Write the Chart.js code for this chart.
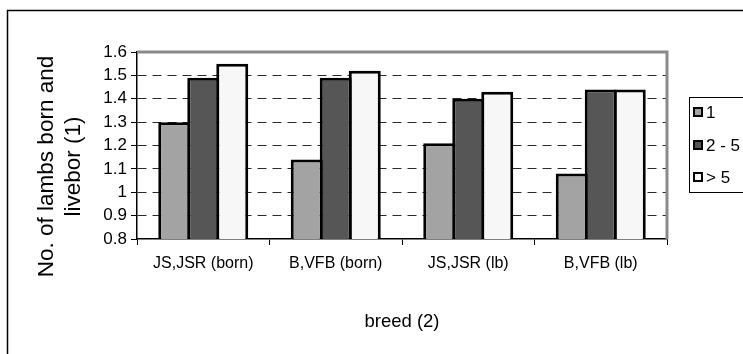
<!DOCTYPE html>
<html>
<head>
<meta charset="utf-8">
<script src="https://cdn.jsdelivr.net/npm/chart.js@4/dist/chart.umd.min.js"></script>
<style>
  html, body { margin: 0; padding: 0; background: #fff; }
  canvas { display: block; }
</style>
</head>
<body>
<canvas id="c" width="743" height="354"></canvas>
<script>
// Breed groups on the category axis
const categories = ['JS,JSR (born)', 'B,VFB (born)', 'JS,JSR (lb)', 'B,VFB (lb)'];
// Parity classes (one series each)
const seriesNames = ['1', '2 - 5', '> 5'];
const parity1 = [1.30, 1.14, 1.21, 1.08];
const parity2to5 = [1.49, 1.49, 1.40, 1.44];
const parityOver5 = [1.55, 1.52, 1.43, 1.44];
// Value axis tick labels, bottom to top
const yTickLabels = ['0.8', '0.9', '1', '1.1', '1.2', '1.3', '1.4', '1.5', '1.6'];
const yTitle = ['No. of lambs born and', 'livebor (1)'];
const xTitle = 'breed (2)';

const FONT = '"Liberation Sans", Arial, Helvetica, sans-serif';
const fills = ['#a3a3a3', '#565656', '#f7f7f7'];

// Outer frame, plot-area outline, value-axis title and the boxed legend
const decorations = {
  id: 'decorations',
  beforeDraw(chart) {
    const ctx = chart.ctx;
    ctx.save();
    ctx.fillStyle = '#fff';
    ctx.fillRect(0, 0, chart.width, chart.height);
    ctx.strokeStyle = '#000';
    ctx.lineWidth = 1.5;
    ctx.beginPath();
    ctx.moveTo(7.5, chart.height);
    ctx.lineTo(7.5, 10.5);
    ctx.lineTo(chart.width, 10.5);
    ctx.stroke();
    ctx.restore();
  },
  afterDraw(chart) {
    const { ctx, chartArea: a } = chart;
    ctx.save();
    // grey top and right edge of the plot area
    ctx.strokeStyle = '#8a8a8a';
    ctx.lineWidth = 3;
    ctx.beginPath();
    ctx.moveTo(a.left, a.top);
    ctx.lineTo(a.right, a.top);
    ctx.lineTo(a.right, a.bottom);
    ctx.stroke();

    // value-axis title, two rotated lines
    ctx.save();
    ctx.translate(47, 166.5);
    ctx.rotate(-Math.PI / 2);
    ctx.font = '22.5px ' + FONT;
    ctx.fillStyle = '#000';
    ctx.textAlign = 'center';
    ctx.textBaseline = 'middle';
    yTitle.forEach((line, i) => ctx.fillText(line, 0, i * 26.5));
    ctx.restore();

    // legend box
    ctx.strokeStyle = '#000';
    ctx.lineWidth = 1;
    ctx.strokeRect(689.5, 97.5, 80, 95);
    const rows = [112, 145, 177];
    ctx.font = '17px ' + FONT;
    ctx.textBaseline = 'middle';
    ctx.textAlign = 'left';
    chart.data.datasets.forEach((ds, i) => {
      const y = rows[i];
      ctx.fillStyle = ds.backgroundColor;
      ctx.fillRect(693, y - 5, 10, 10);
      ctx.strokeStyle = '#000';
      ctx.lineWidth = 2;
      ctx.strokeRect(694, y - 4, 8, 8);
      ctx.fillStyle = '#000';
      ctx.fillText(ds.label, 706, y + 1);
    });
    ctx.restore();
  }
};

new Chart(document.getElementById('c'), {
  type: 'bar',
  data: {
    labels: categories,
    datasets: [
      { label: seriesNames[0], data: parity1, backgroundColor: fills[0] },
      { label: seriesNames[1], data: parity2to5, backgroundColor: fills[1] },
      { label: seriesNames[2], data: parityOver5, backgroundColor: fills[2] }
    ].map(d => Object.assign(d, {
      borderColor: '#000',
      borderWidth: 3,
      // slightly wider than the slot so neighbouring bars share one outline
      categoryPercentage: 0.6566,
      barPercentage: 1.1034
    }))
  },
  options: {
    responsive: false,
    animation: false,
    events: [],
    layout: { padding: { left: 0, right: 76, top: 52, bottom: 0 } },
    plugins: { legend: { display: false }, tooltip: { enabled: false } },
    scales: {
      x: {
        afterFit(scale) { scale.height = 115; },
        offset: true,
        grid: {
          drawOnChartArea: false,
          drawTicks: true,
          tickLength: 6,
          offset: true,
          tickColor: '#000'
        },
        border: { color: '#000', width: 1.5 },
        ticks: {
          color: '#000',
          font: { family: FONT, size: 16 },
          padding: 9,
          maxRotation: 0,
          autoSkip: false
        },
        title: {
          display: true,
          text: xTitle,
          color: '#000',
          font: { family: FONT, size: 18.5 },
          padding: { top: 0, bottom: 21 }
        }
      },
      y: {
        afterFit(scale) { scale.width = 137; },
        min: 0.8,
        max: 1.6,
        grid: {
          color: ctx => {
            const v = ctx.tick ? ctx.tick.value : 0;
            return (Math.abs(v - 1.6) < 1e-6 || Math.abs(v - 0.8) < 1e-6) ? 'rgba(0,0,0,0)' : '#2a2a2a';
          },
          lineWidth: 1,
          tickLength: 6,
          tickColor: '#000',
          tickBorderDash: []
        },
        border: { color: '#000', width: 1.5, dash: [9, 6] },
        ticks: {
          stepSize: 0.1,
          autoSkip: false,
          color: '#000',
          font: { family: FONT, size: 17 },
          padding: 4,
          callback: (v, i) => yTickLabels[i]
        }
      }
    }
  },
  plugins: [decorations]
});
</script>
</body>
</html>
